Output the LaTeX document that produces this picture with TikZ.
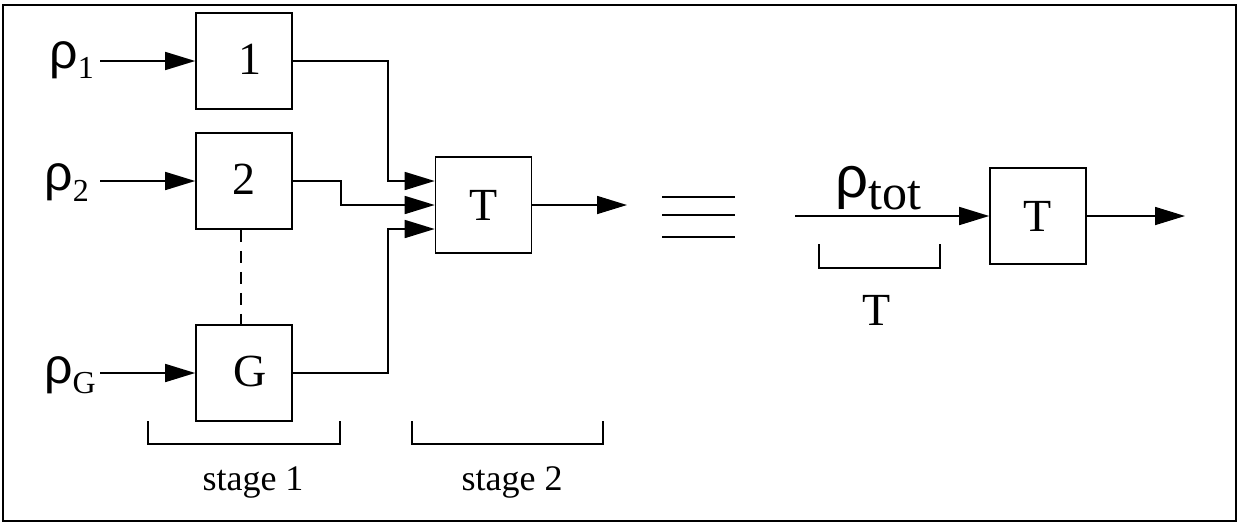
\documentclass[tikz,border=0pt]{standalone}
\usepackage{fontspec}
\setmainfont{Liberation Serif}
\newfontfamily\rhof{Liberation Sans}
\usetikzlibrary{arrows.meta}
\tikzset{
  blk/.style={draw, line width=1.6pt, minimum width=96pt, minimum height=96pt, inner sep=0pt, font=\fontsize{46}{46}\selectfont},
  arr/.style={line width=1.6pt, -{Triangle[length=30pt,width=18pt]}},
  ln/.style={line width=1.6pt},
  lbl/.style={inner sep=0pt, anchor=base east},
  stagetxt/.style={inner sep=0pt, anchor=base, font=\fontsize{36}{36}\selectfont}
}
\newcommand{\rhosym}[1]{{\fontsize{#1}{#1}\rhof ρ}}
\newcommand{\subtxt}[2]{\raisebox{-#1pt}{\fontsize{32}{32}\selectfont #2}}
\begin{document}
\begin{tikzpicture}[x=1pt,y=-1pt]
\useasboundingbox (0,0) rectangle (1241,523);
\draw[line width=1.6pt] (3,5) rectangle (1236,521);
% stage 1 boxes
\node[blk] (b1) at (244,61) {\kern12pt\raisebox{4pt}{1}};
\node[blk] (b2) at (244,181) {\raisebox{3pt}{2}};
\node[blk] (bG) at (244,373) {\kern12pt\raisebox{4pt}{G}};
\node[blk] (T) at (483.5,205) {T};
% input labels
\node[lbl] (r1) at (94,68) {\rhosym{50}\subtxt{10}{1}};
\node[lbl] (r2) at (89,190) {\rhosym{50}\subtxt{11}{2}};
\node[lbl] (rG) at (96,383) {\rhosym{50}\subtxt{10}{G}};
\coordinate (i1) at (100,61);
\coordinate (i2) at (100,181);
\coordinate (iG) at (100,373);
\draw[arr] (i1) -- (b1.west);
\draw[arr] (i2) -- (b2.west);
\draw[arr] (iG) -- (bG.west);
% dashed
\draw[ln, line width=1.4pt, dash pattern=on 12pt off 9pt] (b2.south) ++(-3,0) -- ([xshift=-3pt]bG.north);
% to T
\draw[arr] (b1.east) -- ++(95,0) |- ([yshift=24pt]T.west);
\draw[arr] (b2.east) -- ++(48,0) |- (T.west);
\draw[arr] (bG.east) -- ++(95,0) |- ([yshift=-24pt]T.west);
\coordinate (o1) at (627,205);
\draw[arr] (T.east) -- (o1);
% equivalence
\draw[ln] (662,197) -- (735,197);
\draw[ln] (662,215) -- (735,215);
\draw[ln] (662,237) -- (735,237);
% right side
\node[blk] (T2) at (1038,216) {T};
\coordinate (in2) at (795,216);
\draw[arr] (in2) -- (T2.west);
\coordinate (o2) at (1185,216);
\draw[arr] (T2.east) -- (o2);
\node[inner sep=0pt, anchor=base west] (rt) at (835,197) {\rhosym{58}\raisebox{-12pt}{\fontsize{50}{50}\selectfont tot}};
% brackets
\draw[ln] (148,421) -- (148,444) -- (340,444) -- (340,421);
\draw[ln] (412,421) -- (412,444) -- (603,444) -- (603,421);
\draw[ln] (819,244) -- (819,268) -- (940,268) -- (940,244);
\node[stagetxt] (s1) at (253,490) {stage 1};
\node[stagetxt] (s2) at (512,490) {stage 2};
\node[inner sep=0pt, anchor=base, font=\fontsize{46}{46}\selectfont] (tl) at (877,325) {T};
\end{tikzpicture}
\end{document}
